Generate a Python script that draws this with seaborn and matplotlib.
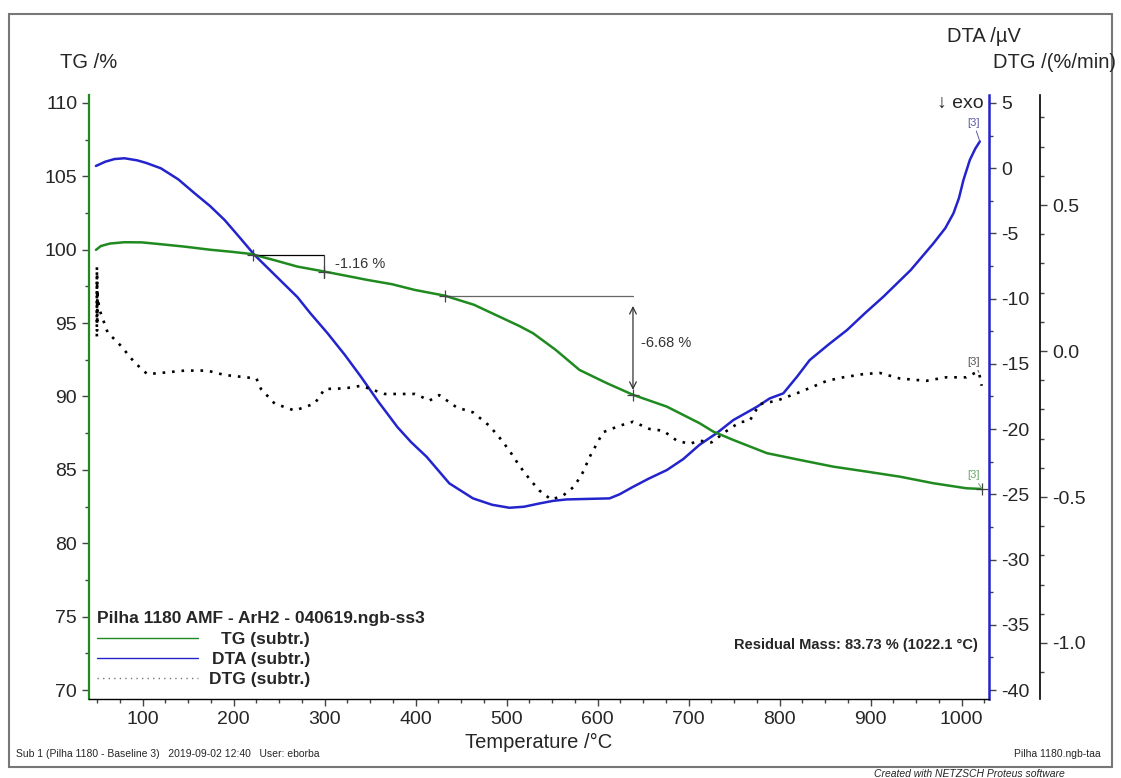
import matplotlib
matplotlib.use("Agg")
import matplotlib.pyplot as plt
import seaborn as sns
from matplotlib.patches import Rectangle
from matplotlib.ticker import MultipleLocator, FormatStrFormatter

# TG (subtr.)  -  mass / %
tg_temp = [48.7, 54, 64, 80, 99, 119, 146, 174, 199, 219, 244, 270, 300, 324, 347,
           374, 399, 432, 464, 492, 514, 529, 554, 580, 610, 639, 676, 712, 727,
           749, 786, 822, 859, 896, 932, 969, 1005, 1022]
tg_mass = [99.99, 100.25, 100.42, 100.51, 100.5, 100.38, 100.21, 100.0, 99.85, 99.71,
           99.3, 98.85, 98.51, 98.22, 97.94, 97.65, 97.26, 96.87, 96.25, 95.44, 94.8,
           94.31, 93.17, 91.81, 90.91, 90.11, 89.31, 88.18, 87.61, 87.04, 86.14, 85.68,
           85.22, 84.88, 84.54, 84.09, 83.75, 83.7]

# DTA (subtr.)  -  uV
dta_temp = [48.6, 59, 69, 80, 94, 104, 120, 139, 157, 174, 190, 204, 223, 244, 270,
            284, 303, 322, 340, 359, 380, 395, 412, 437, 463, 484, 503, 519, 536, 551,
            566, 589, 613, 624, 639, 656, 676, 694, 712, 731, 749, 775, 789, 804, 819,
            833, 854, 874, 894, 914, 944, 969, 982, 991, 997, 1002, 1009, 1015, 1020]
dta_uv = [0.17, 0.5, 0.7, 0.76, 0.6, 0.4, -0.01, -0.85, -1.92, -2.9, -3.97, -5.1, -6.66,
          -8.1, -9.88, -11.1, -12.64, -14.3, -16.0, -17.9, -19.85, -21.0, -22.12, -24.16,
          -25.31, -25.8, -26.03, -25.95, -25.7, -25.5, -25.39, -25.35, -25.31, -25.0,
          -24.42, -23.8, -23.14, -22.3, -21.2, -20.3, -19.31, -18.29, -17.65, -17.26,
          -15.99, -14.71, -13.5, -12.41, -11.1, -9.85, -7.81, -5.76, -4.6, -3.46, -2.3,
          -0.9, 0.63, 1.5, 2.05]

# DTG (subtr.)  -  %/min
dtg_temp = [49.6, 49.7, 49.8, 49.9, 50.0, 50.2, 52.3, 61.4, 76, 91, 105, 120, 146, 171,
            190, 225, 230, 245, 267, 289, 300, 322, 340, 366, 382, 399, 404, 415, 426,
            445, 463, 481, 492, 503, 514, 525, 536, 549, 562, 573, 582, 592, 599, 606,
            624, 639, 657, 672, 687, 701, 712, 725, 742, 756, 767, 778, 797, 822, 852,
            870, 892, 910, 932, 961, 983, 1005, 1016, 1019, 1022]
dtg_rate = [0.05, 0.29, 0.07, 0.26, 0.10, 0.20, 0.144, 0.064, 0.018, -0.039, -0.079,
            -0.075, -0.067, -0.067, -0.082, -0.094, -0.13, -0.18, -0.204, -0.18, -0.13,
            -0.128, -0.119, -0.147, -0.147, -0.147, -0.153, -0.17, -0.151, -0.193, -0.21,
            -0.256, -0.296, -0.341, -0.393, -0.438, -0.478, -0.509, -0.495, -0.467,
            -0.427, -0.358, -0.318, -0.278, -0.256, -0.242, -0.267, -0.273, -0.307,
            -0.318, -0.307, -0.313, -0.273, -0.244, -0.239, -0.182, -0.170, -0.141,
            -0.102, -0.09, -0.079, -0.075, -0.094, -0.102, -0.09, -0.09, -0.073, -0.073,
            -0.119]

GREEN = "#1f8a1f"
BLUE = "#2424cc"
GREY = "#444444"

sns.set_style("ticks")
plt.rcParams["font.family"] = ["Liberation Sans", "DejaVu Sans"]
plt.rcParams["axes.unicode_minus"] = False

fig = plt.figure(figsize=(11.21, 7.78), dpi=100)
ax = fig.add_axes([0.0794, 0.1015, 0.8028, 0.7764])
ax2 = ax.twinx()
ax3 = ax.twinx()

sns.lineplot(x=dta_temp, y=dta_uv, ax=ax2, color=BLUE, linewidth=1.8,
             sort=False, estimator=None)
sns.lineplot(x=dtg_temp, y=dtg_rate, ax=ax3, color="black", linewidth=1.9,
             linestyle=(0, (1, 2.6)), sort=False, estimator=None)
sns.lineplot(x=tg_temp, y=tg_mass, ax=ax, color=GREEN, linewidth=1.8,
             sort=False, estimator=None)
ax.set_zorder(3)
ax.patch.set_visible(False)

# axes limits / ticks
ax.set_xlim(41, 1030)
ax.set_ylim(69.39, 110.54)
ax2.set_ylim(-40.69, 5.61)
ax3.set_ylim(-1.192, 0.877)

ax.xaxis.set_major_locator(MultipleLocator(100))
ax.xaxis.set_minor_locator(MultipleLocator(25))
ax.yaxis.set_major_locator(MultipleLocator(5))
ax.yaxis.set_minor_locator(MultipleLocator(2.5))
ax2.yaxis.set_major_locator(MultipleLocator(5))
ax2.yaxis.set_minor_locator(MultipleLocator(2.5))
ax3.yaxis.set_major_locator(MultipleLocator(0.5))
ax3.yaxis.set_minor_locator(MultipleLocator(0.1))
ax3.yaxis.set_major_formatter(FormatStrFormatter("%.1f"))

for a in (ax, ax2, ax3):
    a.set_xlabel("")
    a.set_ylabel("")
    for s in a.spines.values():
        s.set_visible(False)
    a.tick_params(which="major", length=5, width=1, color=GREY, labelsize=14)
    a.tick_params(which="minor", length=3, width=1, color=GREY)

ax.spines["left"].set_visible(True)
ax.spines["left"].set_color(GREEN)
ax.spines["left"].set_linewidth(1.6)
ax.spines["bottom"].set_visible(True)
ax.spines["bottom"].set_color("black")
ax.spines["bottom"].set_linewidth(1.0)
ax2.spines["right"].set_visible(True)
ax2.spines["right"].set_color(BLUE)
ax2.spines["right"].set_linewidth(1.8)
ax3.spines["right"].set_visible(True)
ax3.spines["right"].set_position(("axes", 1.0567))
ax3.spines["right"].set_color("black")
ax3.spines["right"].set_linewidth(1.2)

ax.set_xlabel("Temperature /°C", fontsize=14.5, labelpad=4)

# step annotations on the TG curve
ax.plot([220.9, 298.9], [99.65, 99.65], color="black", lw=0.9)
ax.plot([298.9, 298.9], [99.65, 98.1], color=GREY, lw=0.9)
ax.plot([220.9, 298.9], [99.65, 98.51], ls="none", marker="+", ms=8, color=GREY, mew=0.9)
ax.text(311, 99.03, "-1.16 %", fontsize=10.5, color="#333333", va="center")

ax.plot([431.9, 638.8], [96.87, 96.87], color="#666666", lw=0.9)
ax.plot([431.9, 638.8], [96.87, 90.11], ls="none", marker="+", ms=8, color=GREY, mew=0.9)
ax.annotate("", xy=(638.8, 90.45), xytext=(638.8, 96.17),
            arrowprops=dict(arrowstyle="<->", color="#333333", lw=0.9,
                            shrinkA=0, shrinkB=0, mutation_scale=12))
ax.text(648, 93.67, "-6.68 %", fontsize=10.5, color="#333333", va="center")

# segment markers [3]
ax2.annotate("[3]", xy=(1020, 2.05), xytext=(1013, 3.1), fontsize=8, color="#5a5aa8",
             ha="center", va="bottom",
             arrowprops=dict(arrowstyle="-", color="#5a5aa8", lw=0.7, shrinkA=0, shrinkB=0))
ax3.annotate("[3]", xy=(1019, -0.073), xytext=(1013, -0.055), fontsize=8, color="#555555",
             ha="center", va="bottom",
             arrowprops=dict(arrowstyle="-", color="#555555", lw=0.7, shrinkA=0, shrinkB=0))
ax.annotate("[3]", xy=(1022, 83.73), xytext=(1013, 84.3), fontsize=8, color="#6aa86a",
            ha="center", va="bottom",
            arrowprops=dict(arrowstyle="-", color="#6aa86a", lw=0.7, shrinkA=0, shrinkB=0))
ax.plot([1022], [83.73], marker="+", ms=9, color=GREY, mew=0.9)

# legend block
ax.text(0.0086, 0.134, "Pilha 1180 AMF - ArH2 - 040619.ngb-ss3", transform=ax.transAxes,
        fontsize=12.5, fontweight="bold", va="center", ha="left")
leg_rows = [(0.1005, GREEN, "-", "TG (subtr.)"),
            (0.0674, BLUE, "-", "DTA (subtr.)"),
            (0.0340, "#777777", (0, (1, 3)), "DTG (subtr.)")]
for yy, col, ls, lab in leg_rows:
    ax.plot([0.0086, 0.1214], [yy, yy], transform=ax.transAxes, color=col, ls=ls,
            lw=1.0, clip_on=False)
    ax.text(0.2456, yy - 0.002, lab, transform=ax.transAxes, fontsize=12.5,
            fontweight="bold", ha="right", va="center")

ax.text(0.988, 0.0894, "Residual Mass: 83.73 % (1022.1 °C)", transform=ax.transAxes,
        fontsize=10.5, fontweight="bold", ha="right", va="center")

# axis titles and page furniture
fig.text(60 / 1121, 1 - 62 / 778, "TG /%", fontsize=14.5, va="center", ha="left")
fig.text(947 / 1121, 1 - 37 / 778, "DTA /µV", fontsize=14.5, va="center", ha="left")
fig.text(993 / 1121, 1 - 62 / 778, "DTG /(%/min)", fontsize=14.5, va="center", ha="left")
fig.text(984 / 1121, 1 - 103 / 778, "↓ exo", fontsize=14, va="center", ha="right")

fig.text(16 / 1121, 1 - 754 / 778,
         "Sub 1 (Pilha 1180 - Baseline 3)   2019-09-02 12:40   User: eborba",
         fontsize=7.5, va="center", ha="left")
fig.text(1101 / 1121, 1 - 754 / 778, "Pilha 1180.ngb-taa", fontsize=7.5,
         va="center", ha="right")
fig.text(874 / 1121, 1 - 774 / 778, "Created with NETZSCH Proteus software",
         fontsize=7.5, style="italic", va="center", ha="left")

fig.add_artist(Rectangle((9 / 1121, 1 - 767 / 778), 1103 / 1121, 753 / 778,
                         transform=fig.transFigure, fill=False, edgecolor="#777777",
                         linewidth=1.5))

fig.savefig("out.png", dpi=100)
